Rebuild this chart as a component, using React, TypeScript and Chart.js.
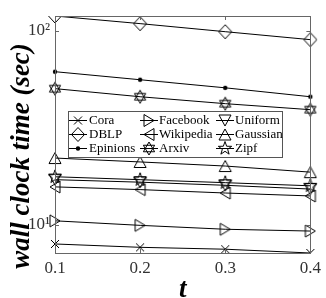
import React, { useEffect, useRef } from "react";
import { Chart, registerables } from "chart.js";

Chart.register(...registerables);

const tValues = ["0.1", "0.2", "0.3", "0.4"];
const seriesNames = ["Cora", "DBLP", "Epinions", "Facebook", "Wikipedia", "Arxiv", "Uniform", "Gaussian", "Zipf"];
const cora = [7.98, 7.67, 7.5, 7.17];
const dblp = [119, 108.7, 98.8, 89.9];
const epinions = [61.5, 55.9, 50.8, 45.7];
const facebook = [10.5, 9.95, 9.5, 9.3];
const wikipedia = [15.7, 15.2, 14.6, 14.1];
const arxiv = [50.3, 45.7, 42.1, 39.2];
const uniform = [17.1, 16.6, 16.0, 15.3];
const gaussian = [22.1, 21.1, 20.1, 18.7];
const zipf = [17.7, 17.1, 16.5, 15.9];
const seriesValues = [cora, dblp, epinions, facebook, wikipedia, arxiv, uniform, gaussian, zipf];
const markerKinds = ["x", "diamond", "dot", "triR", "triL", "hexagram", "triD", "triU", "pentagram"];
const yTickValues = [10, 100];
const yTickLabels = ["10\u00B9", "10\u00B2"];

const SERIF = "'Liberation Serif', 'Times New Roman', Times, serif";

function drawMarker(ctx: CanvasRenderingContext2D, kind: string, cx: number, cy: number) {
  ctx.save();
  ctx.strokeStyle = "#000";
  ctx.fillStyle = "#000";
  ctx.lineWidth = 1;
  ctx.beginPath();
  if (kind === "x") {
    ctx.moveTo(cx - 4, cy - 4); ctx.lineTo(cx + 4, cy + 4);
    ctx.moveTo(cx + 4, cy - 4); ctx.lineTo(cx - 4, cy + 4);
    ctx.stroke();
  } else if (kind === "diamond") {
    ctx.moveTo(cx - 6.5, cy); ctx.lineTo(cx, cy - 7); ctx.lineTo(cx + 6.5, cy); ctx.lineTo(cx, cy + 7);
    ctx.closePath(); ctx.stroke();
  } else if (kind === "dot") {
    ctx.arc(cx, cy, 2.2, 0, Math.PI * 2); ctx.fill();
  } else if (kind === "triR") {
    ctx.moveTo(cx - 5, cy - 6); ctx.lineTo(cx + 5, cy); ctx.lineTo(cx - 5, cy + 6);
    ctx.closePath(); ctx.stroke();
  } else if (kind === "triL") {
    ctx.moveTo(cx + 5, cy - 6); ctx.lineTo(cx - 5, cy); ctx.lineTo(cx + 5, cy + 6);
    ctx.closePath(); ctx.stroke();
  } else if (kind === "triU") {
    ctx.moveTo(cx - 6, cy + 5.5); ctx.lineTo(cx, cy - 5.5); ctx.lineTo(cx + 6, cy + 5.5);
    ctx.closePath(); ctx.stroke();
  } else if (kind === "triD") {
    ctx.moveTo(cx - 6, cy - 5.5); ctx.lineTo(cx, cy + 5.5); ctx.lineTo(cx + 6, cy - 5.5);
    ctx.closePath(); ctx.stroke();
  } else if (kind === "hexagram") {
    const r = 6.5;
    for (let k = 0; k < 2; k++) {
      const off = k === 0 ? -Math.PI / 2 : Math.PI / 2;
      for (let j = 0; j < 3; j++) {
        const a = off + (j * 2 * Math.PI) / 3;
        const px = cx + r * Math.cos(a), py = cy + r * Math.sin(a);
        if (j === 0) ctx.moveTo(px, py); else ctx.lineTo(px, py);
      }
      ctx.closePath();
    }
    ctx.stroke();
  } else if (kind === "pentagram") {
    const ro = 7, ri = 2.8;
    for (let j = 0; j < 10; j++) {
      const a = -Math.PI / 2 + (j * Math.PI) / 5;
      const r = j % 2 === 0 ? ro : ri;
      const px = cx + r * Math.cos(a), py = cy + r * Math.sin(a);
      if (j === 0) ctx.moveTo(px, py); else ctx.lineTo(px, py);
    }
    ctx.closePath(); ctx.stroke();
  }
  ctx.restore();
}

function makeMarkerCanvas(kind: string): HTMLCanvasElement {
  const c = document.createElement("canvas");
  c.width = 18; c.height = 18;
  const ctx = c.getContext("2d")!;
  drawMarker(ctx, kind, 9, 9);
  return c;
}

const frameAndLegend = {
  id: "frameAndLegend",
  afterDatasetsDraw(chart: any) {
    const ctx: CanvasRenderingContext2D = chart.ctx;
    const a = chart.chartArea;
    const xs = chart.scales.x;
    const ys = chart.scales.y;
    ctx.save();
    ctx.strokeStyle = "#666";
    ctx.lineWidth = 1;
    ctx.strokeRect(Math.round(a.left) + 0.5, Math.round(a.top) + 0.5, Math.round(a.right - a.left), Math.round(a.bottom - a.top));
    ctx.beginPath();
    tValues.forEach((_, i) => {
      const px = Math.round(xs.getPixelForValue(i)) + 0.5;
      ctx.moveTo(px, a.bottom); ctx.lineTo(px, a.bottom - 4);
      ctx.moveTo(px, a.top); ctx.lineTo(px, a.top + 4);
    });
    yTickValues.forEach((v) => {
      const py = Math.round(ys.getPixelForValue(v)) + 0.5;
      ctx.moveTo(a.left, py); ctx.lineTo(a.left + 4, py);
      ctx.moveTo(a.right, py); ctx.lineTo(a.right - 4, py);
    });
    ctx.stroke();

    // legend
    ctx.fillStyle = "#fff";
    ctx.fillRect(68.5, 111.5, 214, 46);
    ctx.strokeStyle = "#555";
    ctx.strokeRect(68.5, 111.5, 214, 46);
    const colMarker = [78, 149, 225];
    const colText = [89, 159, 235];
    const rowY = [120, 134, 148];
    ctx.font = "13px " + SERIF;
    ctx.textBaseline = "middle";
    ctx.textAlign = "left";
    seriesNames.forEach((name, i) => {
      const col = Math.floor(i / 3), row = i % 3;
      const mx = colMarker[col], my = rowY[row];
      ctx.strokeStyle = "#000";
      ctx.beginPath();
      ctx.moveTo(mx - 9, my + 0.5); ctx.lineTo(mx + 9, my + 0.5);
      ctx.stroke();
      drawMarker(ctx, markerKinds[i], mx, my + 0.5);
      ctx.fillStyle = "#000";
      ctx.fillText(name, colText[col], my + 1);
    });

    // axis titles
    ctx.fillStyle = "#000";
    ctx.font = "italic bold 27px " + SERIF;
    ctx.textAlign = "center";
    ctx.textBaseline = "alphabetic";
    ctx.fillText("t", (a.left + a.right) / 2, 297);
    ctx.translate(29, 156);
    ctx.rotate(-Math.PI / 2);
    ctx.fillText("wall clock time (sec)", 0, 0);
    ctx.restore();
  },
};

export default function App() {
  const ref = useRef<HTMLCanvasElement>(null);
  useEffect(() => {
    document.body.style.margin = "0";
    const markers = markerKinds.map(makeMarkerCanvas);
    const all = seriesValues.flat();
    const chart = new Chart(ref.current!, {
      type: "line",
      data: {
        labels: tValues,
        datasets: seriesNames.map((name, i) => ({
          label: name,
          data: seriesValues[i],
          borderColor: "#000",
          borderWidth: 1,
          pointStyle: markers[i] as any,
          pointRadius: 6,
          fill: false,
          tension: 0,
        })),
      },
      options: {
        animation: false,
        responsive: true,
        maintainAspectRatio: false,
        layout: { padding: { top: 16, right: 12, left: 0, bottom: 0 } },
        plugins: { legend: { display: false }, tooltip: { enabled: false } },
        scales: {
          x: {
            type: "category",
            offset: false,
            grid: { display: false, drawTicks: false },
            border: { display: false },
            ticks: { color: "#333", font: { family: SERIF, size: 17 }, padding: 5, maxRotation: 0 },
            afterFit: (s: any) => { s.height = 45; },
          },
          y: {
            type: "logarithmic",
            min: Math.min(...all),
            max: Math.max(...all),
            grid: { display: false, drawTicks: false },
            border: { display: false },
            afterBuildTicks: (s: any) => { s.ticks = yTickValues.map((v) => ({ value: v, major: true })); },
            ticks: {
              color: "#333",
              font: { family: SERIF, size: 17 },
              padding: 5,
              callback: (v: any) => { const k = yTickValues.indexOf(Number(v)); return k >= 0 ? yTickLabels[k] : ""; },
            },
            afterFit: (s: any) => { s.width = 55; },
          },
        },
      },
      plugins: [frameAndLegend],
    });
    return () => chart.destroy();
  }, []);
  return (
    <div style={{ position: "fixed", left: 0, top: 0, width: 326, height: 298 }}>
      <canvas ref={ref} />
    </div>
  );
}
